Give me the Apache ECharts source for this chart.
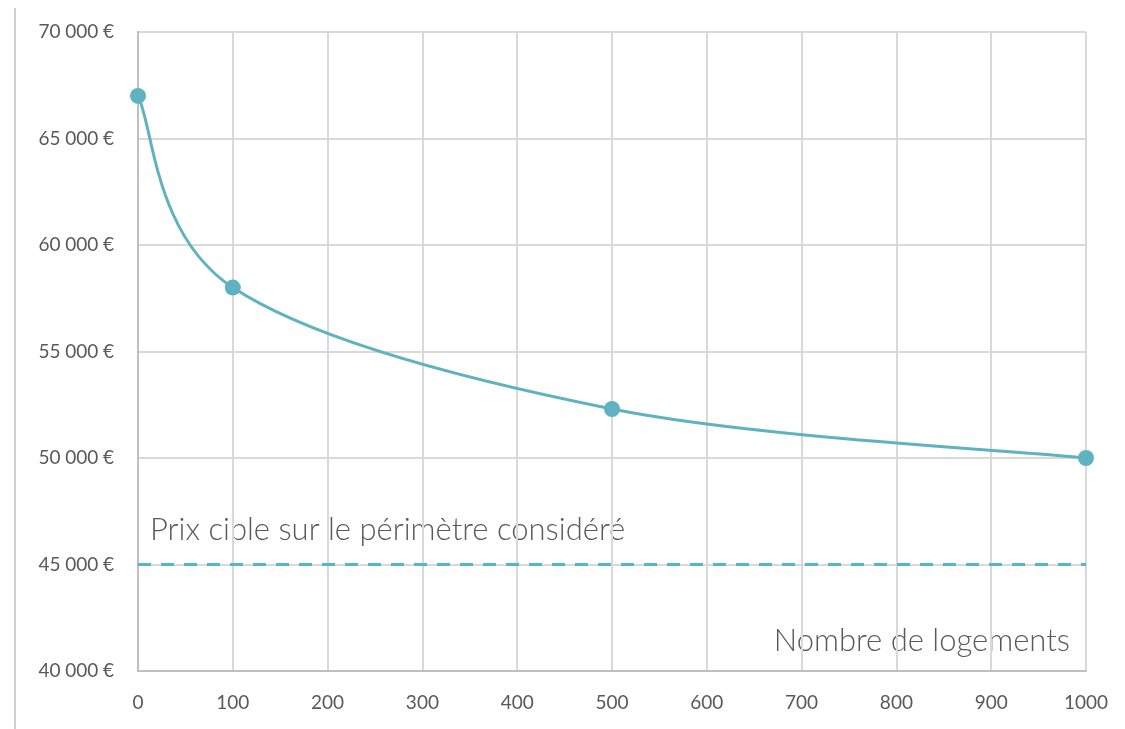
<!DOCTYPE html>
<html>
<head>
<meta charset="utf-8">
<script src="https://cdn.jsdelivr.net/npm/echarts@6/dist/echarts.min.js"></script>
<style>
html,body{margin:0;padding:0;background:#fff;}
#chart{width:1125px;height:729px;}
</style>
</head>
<body>
<div id="chart"></div>
<script>
const xValues = [0, 100, 500, 1000];
const priceValues = [67000, 58000, 52300, 50000];
const targetX = [0, 1000];
const targetPrice = [45000, 45000];
const targetLabel = 'Prix cible sur le périmètre considéré';
const xAxisTitle = 'Nombre de logements';

const chart = echarts.init(document.getElementById('chart'));
const font = 'Lato, "Open Sans", sans-serif';
const textColor = '#595959';
const teal = '#5fb3c1';
const points = xValues.map((x, i) => [x, priceValues[i]]);

function fmt(v) {
  return String(v).replace(/\B(?=(\d{3})+(?!\d))/g, '\u202F') + '\u202F€';
}

// Smoothed curve (Catmull-Rom style Bézier, tension 1/6) in pixel space from the axis scales
function renderCurve(params, api) {
  if (params.dataIndex !== 0) return null;
  const p = points.map(pt => api.coord(pt));
  let d = 'M' + p[0][0] + ' ' + p[0][1];
  for (let i = 0; i < p.length - 1; i++) {
    const p0 = p[i - 1] || p[i];
    const p1 = p[i];
    const p2 = p[i + 1];
    const p3 = p[i + 2] || p[i + 1];
    const c1 = [p1[0] + (p2[0] - p0[0]) / 6, p1[1] + (p2[1] - p0[1]) / 6];
    const c2 = [p2[0] - (p3[0] - p1[0]) / 6, p2[1] - (p3[1] - p1[1]) / 6];
    d += ' C' + c1[0] + ' ' + c1[1] + ' ' + c2[0] + ' ' + c2[1] + ' ' + p2[0] + ' ' + p2[1];
  }
  return {
    type: 'path',
    shape: { pathData: d },
    style: { stroke: teal, lineWidth: 3, fill: 'none' }
  };
}

chart.setOption({
  animation: false,
  grid: { left: 138, right: 39, top: 32, bottom: 58 },
  xAxis: {
    type: 'value', min: 0, max: 1000, interval: 100,
    axisLine: { show: true, lineStyle: { color: '#bfbfbf', width: 2 } },
    axisTick: { show: false },
    axisLabel: { color: textColor, fontFamily: font, fontSize: 19, margin: 22, formatter: v => String(v) },
    splitLine: { show: true, lineStyle: { color: '#d9d9d9', width: 2 } }
  },
  yAxis: {
    type: 'value', min: 40000, max: 70000, interval: 5000,
    axisLine: { show: true, lineStyle: { color: '#bfbfbf', width: 2 } },
    axisTick: { show: false },
    axisLabel: { color: textColor, fontFamily: font, fontSize: 19, margin: 24, formatter: fmt },
    splitLine: { show: true, lineStyle: { color: '#d9d9d9', width: 2 } }
  },
  series: [
    {
      type: 'line',
      data: targetX.map((x, i) => [x, targetPrice[i]]),
      symbol: 'none',
      lineStyle: { color: '#55b6c7', width: 3, type: [13, 10] },
      z: 4
    },
    {
      type: 'custom',
      data: points,
      renderItem: renderCurve,
      clip: false,
      z: 5
    },
    {
      type: 'scatter',
      data: points,
      symbol: 'circle', symbolSize: 16,
      itemStyle: { color: teal, opacity: 1 },
      z: 6
    }
  ],
  graphic: [
    { type: 'line', shape: { x1: 15, y1: 8, x2: 15, y2: 729 }, style: { stroke: '#d0d0d0', lineWidth: 2 } },
    { type: 'text', left: 150, top: 514, style: { text: targetLabel, fill: textColor, font: '300 31px ' + font } },
    { type: 'text', right: 55, top: 625, style: { text: xAxisTitle, fill: textColor, font: '300 31px ' + font } }
  ]
});
</script>
</body>
</html>
